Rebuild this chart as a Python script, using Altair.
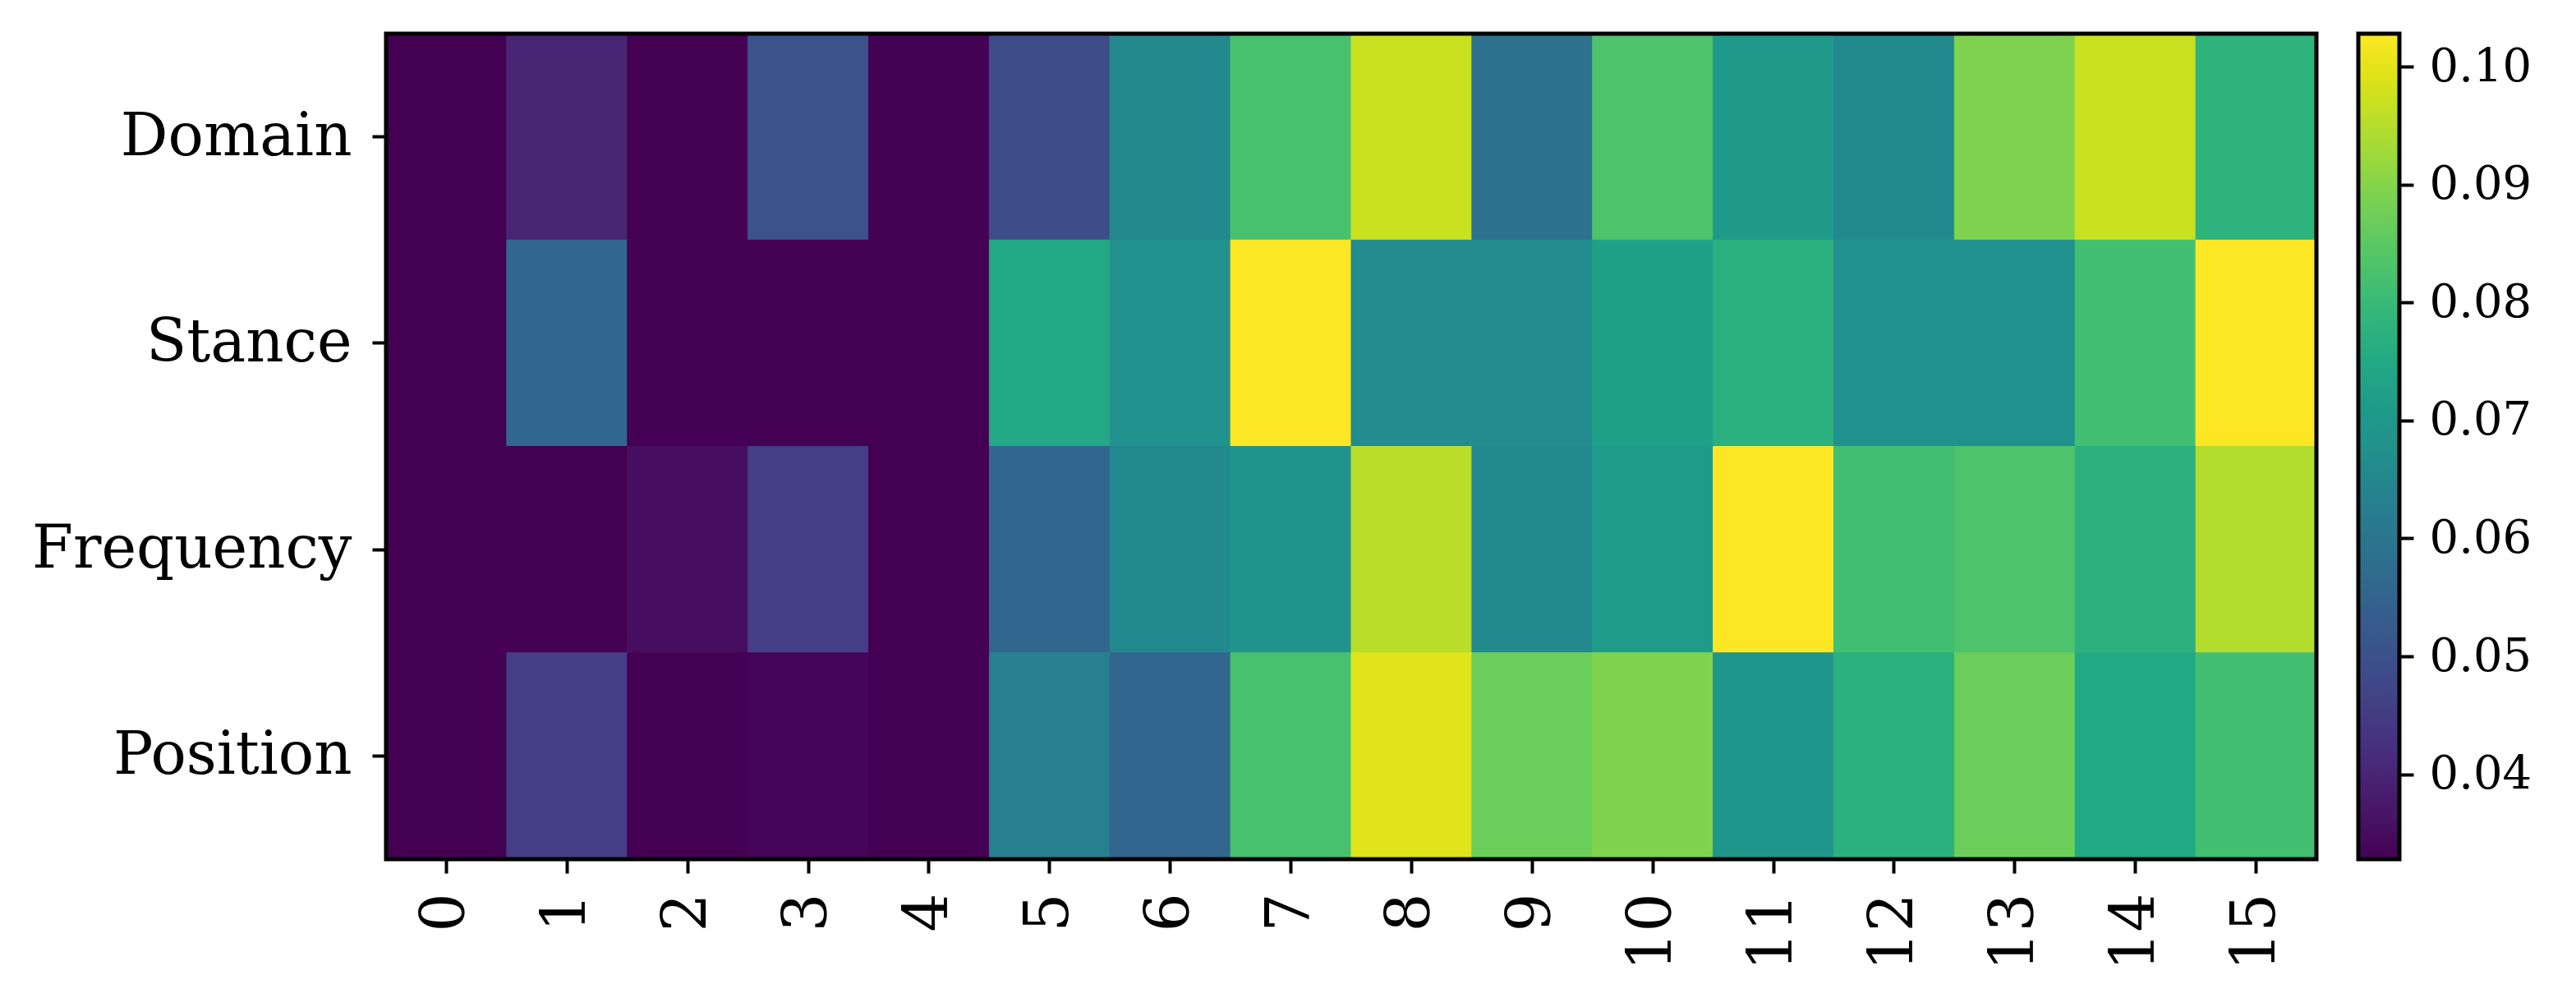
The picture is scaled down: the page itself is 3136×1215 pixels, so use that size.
import altair as alt
import pandas as pd

rows = ["Domain", "Stance", "Frequency", "Position"]
cols = list(range(16))

domain_vals = [0.0328, 0.0398, 0.0328, 0.0503, 0.0330, 0.0489, 0.0657, 0.0825, 0.0972, 0.0587,
               0.0832, 0.0706, 0.0661, 0.0892, 0.0972, 0.0780]
stance_vals = [0.0328, 0.0559, 0.0328, 0.0328, 0.0328, 0.0748, 0.0682, 0.1028, 0.0664, 0.0664,
               0.0727, 0.0773, 0.0678, 0.0678, 0.0818, 0.1028]
frequency_vals = [0.0328, 0.0328, 0.0349, 0.0454, 0.0328, 0.0559, 0.0661, 0.0689, 0.0955, 0.0661,
                  0.0710, 0.1028, 0.0818, 0.0832, 0.0776, 0.0948]
position_vals = [0.0328, 0.0454, 0.0328, 0.0335, 0.0328, 0.0629, 0.0556, 0.0825, 0.0997, 0.0871,
                 0.0895, 0.0696, 0.0773, 0.0871, 0.0748, 0.0818]

vmin, vmax = 0.0328, 0.1028
cbar_ticks = [0.04, 0.05, 0.06, 0.07, 0.08, 0.09, 0.10]

# viridis stops for colour bar gradient
viridis = ["#440154", "#471365", "#482475", "#463480", "#414487", "#3b528b", "#355f8d",
           "#2f6c8e", "#2a788e", "#25848e", "#21918c", "#1e9c89", "#22a884", "#2fb47c",
           "#44bf70", "#5ec962", "#7ad151", "#9bd93c", "#bddf26", "#dfe318", "#fde725"]

recs = []
for name, vals in zip(rows, [domain_vals, stance_vals, frequency_vals, position_vals]):
    for c, v in zip(cols, vals):
        recs.append({"row": name, "col": c, "value": v})
df = pd.DataFrame(recs)

FONT = "DejaVu Serif"
W, H = 2350, 1005
TICK = dict(tickSize=17, tickWidth=4, tickColor="black", domain=False, grid=False,
            labelFont=FONT, labelColor="black", labelLimit=0)
cscale = alt.Scale(scheme="viridis", domain=[vmin, vmax])

heat = alt.Chart(df).mark_rect(strokeWidth=1).encode(
    x=alt.X("col:O", sort=cols, title=None,
            scale=alt.Scale(paddingInner=0, paddingOuter=0),
            axis=alt.Axis(labelAngle=270, labelFontSize=74, labelPadding=24, **TICK)),
    y=alt.Y("row:N", sort=rows, title=None,
            scale=alt.Scale(paddingInner=0, paddingOuter=0),
            axis=alt.Axis(labelFontSize=72, labelPadding=25, **TICK)),
    fill=alt.Fill("value:Q", scale=cscale, legend=None),
    stroke=alt.Stroke("value:Q", scale=cscale, legend=None),
)

frame = alt.Chart(pd.DataFrame({"k": [0]})).mark_rect(
    fillOpacity=0, stroke="black", strokeWidth=5
).encode(x=alt.value(0), x2=alt.value(W), y=alt.value(0), y2=alt.value(H))

heat_layer = alt.layer(heat, frame).properties(width=W, height=H)

cb_df = pd.DataFrame({"lo": [vmin], "hi": [vmax]})
stops = [alt.GradientStop(offset=i / (len(viridis) - 1), color=c) for i, c in enumerate(viridis)]
cbar = alt.Chart(cb_df).mark_rect(
    color=alt.Gradient(gradient="linear", stops=stops, x1=0, x2=0, y1=1, y2=0),
    stroke="black", strokeWidth=5
).encode(
    y=alt.Y("lo:Q", scale=alt.Scale(domain=[vmin, vmax], nice=False, zero=False), title=None,
            axis=alt.Axis(orient="right", values=cbar_ticks, format=".2f", labelFontSize=56,
                          labelPadding=19, **TICK)),
    y2="hi:Q",
    x=alt.value(0), x2=alt.value(50),
).properties(width=50, height=H)

chart = alt.hconcat(heat_layer, cbar, spacing=51, bounds="flush").properties(
    padding={"left": 30, "top": 30, "right": 5, "bottom": 5}
).configure_view(strokeWidth=0).configure(background="white")

chart.save("out.html", embed_options={"renderer": "svg", "actions": False})
